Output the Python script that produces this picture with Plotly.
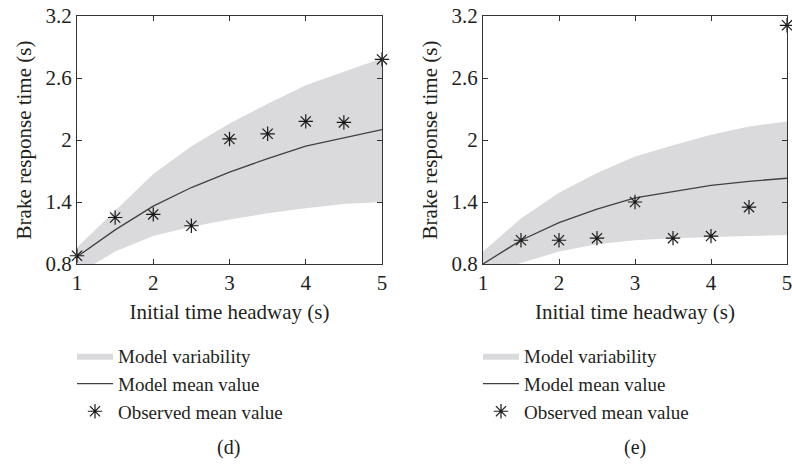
import plotly.graph_objects as go

headway = [1, 1.5, 2, 2.5, 3, 3.5, 4, 4.5, 5]

# Panel (d)
d_upper = [0.96, 1.32, 1.67, 1.94, 2.16, 2.35, 2.53, 2.66, 2.79]
d_lower = [0.70, 0.92, 1.07, 1.16, 1.23, 1.29, 1.34, 1.38, 1.40]
d_mean = [0.87, 1.13, 1.36, 1.54, 1.69, 1.82, 1.94, 2.02, 2.10]
d_obs = [0.88, 1.25, 1.28, 1.17, 2.01, 2.06, 2.18, 2.17, 2.78]

# Panel (e)
e_upper = [0.92, 1.24, 1.49, 1.68, 1.84, 1.95, 2.05, 2.13, 2.18]
e_lower = [0.70, 0.81, 0.92, 0.99, 1.03, 1.05, 1.06, 1.07, 1.08]
e_mean = [0.80, 1.03, 1.20, 1.33, 1.44, 1.50, 1.56, 1.60, 1.63]
e_obs_x = [1.5, 2, 2.5, 3, 3.5, 4, 4.5, 5]
e_obs = [1.03, 1.03, 1.05, 1.40, 1.05, 1.07, 1.35, 3.11]

y_ticks = [0.8, 1.4, 2, 2.6, 3.2]
x_ticks = [1, 2, 3, 4, 5]
panel_labels = ["(d)", "(e)"]

FONT = "Liberation Serif"
TXT = "#231f20"
BAND = "#dadadc"
LINE = "#404040"
FS = 21

fig = go.Figure()

panels = [
    ("x", "y", "legend", headway, d_upper, d_lower, d_mean, headway, d_obs),
    ("x2", "y2", "legend2", headway, e_upper, e_lower, e_mean, e_obs_x, e_obs),
]

for xa, ya, lg, xs, up, lo, mn, ox, ob in panels:
    fig.add_trace(go.Scatter(x=xs + xs[::-1], y=up + lo[::-1], fill="toself",
                             fillcolor=BAND, line=dict(width=0), mode="lines",
                             name="Model variability", legend=lg,
                             xaxis=xa, yaxis=ya, hoverinfo="skip"))
    fig.add_trace(go.Scatter(x=xs, y=mn, mode="lines",
                             line=dict(color=LINE, width=1.3),
                             name="Model mean value", legend=lg,
                             xaxis=xa, yaxis=ya))
    fig.add_trace(go.Scatter(x=ox, y=ob, mode="markers",
                             marker=dict(symbol="asterisk", size=12,
                                         line=dict(color="#1a1a1a", width=1.2)),
                             name="Observed mean value", legend=lg,
                             xaxis=xa, yaxis=ya, cliponaxis=False))

W, H = 792, 464
ytop = 1 - 16 / H
ybot = 1 - 264 / H

axis_common = dict(
    showline=True, linecolor="#333333", linewidth=1, mirror="ticks",
    ticks="inside", ticklen=5, tickcolor="#333333", showgrid=False,
    zeroline=False, automargin=False, ticklabeloverflow="allow",
    tickfont=dict(family=FONT, size=FS, color=TXT),
)
title_font = dict(family=FONT, size=FS, color=TXT)
leg_font = dict(family=FONT, size=19, color=TXT)

fig.update_layout(
    width=W, height=H,
    margin=dict(l=0, r=0, t=0, b=0, autoexpand=False),
    paper_bgcolor="white", plot_bgcolor="white",
    font=dict(family=FONT, size=FS, color=TXT),
    xaxis=dict(domain=[77 / W, 382 / W], range=[1, 5], tickvals=x_ticks,
               anchor="y",
               title=dict(text="Initial time headway (s)", standoff=10, font=title_font),
               **axis_common),
    yaxis=dict(domain=[ybot, ytop], range=[0.8, 3.2], tickvals=y_ticks,
               ticktext=[str(v) for v in y_ticks], anchor="x",
               title=dict(text="Brake response time (s)", standoff=8, font=title_font),
               **axis_common),
    xaxis2=dict(domain=[483 / W, 787 / W], range=[1, 5], tickvals=x_ticks,
                anchor="y2",
                title=dict(text="Initial time headway (s)", standoff=10, font=title_font),
                **axis_common),
    yaxis2=dict(domain=[ybot, ytop], range=[0.8, 3.2], tickvals=y_ticks,
                ticktext=[str(v) for v in y_ticks], anchor="x2",
                title=dict(text="Brake response time (s)", standoff=8, font=title_font),
                **axis_common),
    legend=dict(x=72 / W, y=1 - 337 / H, xanchor="left", yanchor="top",
                bgcolor="rgba(0,0,0,0)", font=leg_font, tracegroupgap=0,
                itemwidth=36),
    legend2=dict(x=478 / W, y=1 - 337 / H, xanchor="left", yanchor="top",
                 bgcolor="rgba(0,0,0,0)", font=leg_font, tracegroupgap=0,
                 itemwidth=36),
    showlegend=True,
    annotations=[
        dict(text=panel_labels[0], x=228 / W, y=1 - 447 / H, xref="paper", yref="paper",
             xanchor="center", yanchor="middle", showarrow=False,
             font=dict(family=FONT, size=20, color=TXT)),
        dict(text=panel_labels[1], x=635 / W, y=1 - 447 / H, xref="paper", yref="paper",
             xanchor="center", yanchor="middle", showarrow=False,
             font=dict(family=FONT, size=20, color=TXT)),
    ],
)

fig.write_html("out.html")
